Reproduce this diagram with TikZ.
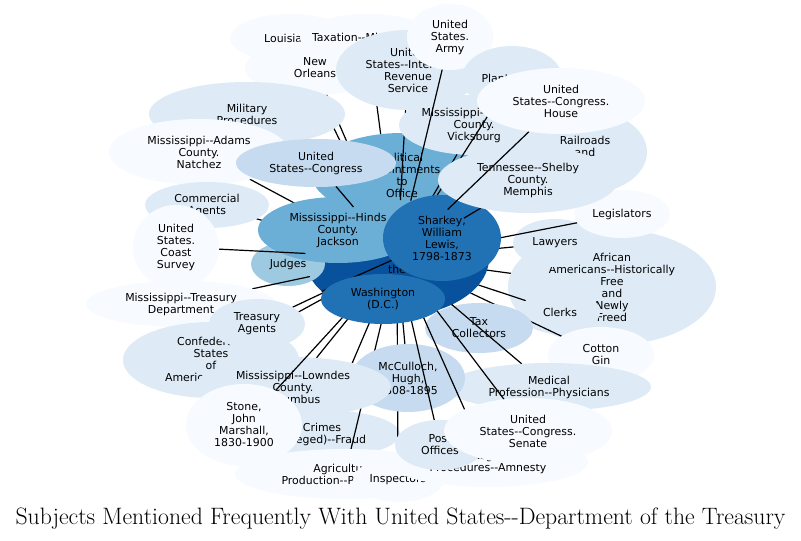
\documentclass[tikz,border=0pt]{standalone}
\usepackage{fontspec}
\newfontfamily\lblfont{DejaVu Sans}[Ligatures=TeXOff]
\usetikzlibrary{shapes.geometric}

\definecolor{c0}{HTML}{F7FBFF}
\definecolor{c1}{HTML}{DEEBF7}
\definecolor{c2}{HTML}{C6DBEF}
\definecolor{c3}{HTML}{9ECAE1}
\definecolor{c4}{HTML}{6BAED6}
\definecolor{c6}{HTML}{2171B5}
\definecolor{c7}{HTML}{08519C}

\tikzset{
  hull/.style={ellipse, inner sep=0pt, outer sep=0pt},
  lbl/.style={align=center, inner sep=0pt, font=\lblfont\fontsize{8.2}{9}\selectfont},
  link/.style={line width=0.9pt},
}

% name, x, y, x radius, y radius, colour, label
\newcommand{\subj}[7]{%
  \node[hull, minimum width=#4*1.5pt, minimum height=#5*1.5pt] (#1) at (#2,#3) {};
  \draw[link] (tr) -- (#1);
  \fill[#6] (#1.center) ellipse[x radius=#4, y radius=#5];
  \node[lbl] (#1-l) at (#1) {#7};
}

\begin{document}
\begin{tikzpicture}[x=0.75pt, y=-0.75pt]
  \path[fill=white, use as bounding box] (0,0) rectangle (801,541);

  \node[hull, minimum width=92*1.5pt, minimum height=58*1.5pt] (tr) at (397,258) {};
  \fill[c7] (tr.center) ellipse[x radius=92, y radius=58];
  \node[lbl] (tr-l) at (tr) {United\\States--Department\\of\\the\\Treasury};

  \subj{louisiana}{290}{38}{60}{24}{c0}{Louisiana}
  \subj{taxation}{368}{38}{68}{24}{c0}{Taxation--Mississippi}
  \subj{orleans}{315}{68}{70}{27}{c0}{New\\Orleans}
  \subj{military}{247}{114}{98}{32}{c1}{Military\\Procedures}
  \subj{adams}{199}{152}{90}{33}{c0}{Mississippi--Adams\\County.\\Natchez}
  \subj{political}{402}{175}{90}{42}{c4}{Political\\Appointments\\to\\Office}
  \subj{commercial}{207}{205}{62}{23}{c1}{Commercial\\Agents}
  \subj{judges}{288}{264}{37}{22}{c3}{Judges}
  \subj{hinds}{338}{230}{80}{33}{c4}{Mississippi--Hinds\\County.\\Jackson}
  \subj{congress}{316}{163}{80}{24}{c2}{United\\States--Congress}
  \subj{coast}{176}{247}{43}{42}{c0}{United\\States.\\Coast\\Survey}
  \subj{treasdept}{181}{304}{95}{23}{c0}{Mississippi--Treasury\\Department}
  \subj{confed}{211}{360}{88}{38}{c1}{Confederate\\States\\of\\America--History}
  \subj{agents}{257}{324}{48}{25}{c1}{Treasury\\Agents}
  \subj{revenue}{408}{70}{72}{40}{c1}{United\\States--Internal\\Revenue\\Service}
  \subj{vicksburg}{474}{125}{75}{30}{c1}{Mississippi--Warren\\County.\\Vicksburg}
  \subj{army}{450}{37}{43}{33}{c0}{United\\States.\\Army}
  \subj{plantations}{512}{78}{50}{32}{c1}{Plantations}
  \subj{railroads}{585}{152}{62}{42}{c1}{Railroads\\and\\Politics}
  \subj{african}{612}{287}{104}{58}{c1}{African\\Americans--Historically\\Free\\and\\Newly\\Freed}
  \subj{lawyers}{555}{243}{42}{24}{c1}{Lawyers}
  \subj{legislators}{622}{214}{48}{24}{c0}{Legislators}
  \subj{clerks}{560}{312}{40}{22}{c1}{Clerks}
  \subj{cotton}{601}{355}{53}{28}{c0}{Cotton\\Gin}
  \subj{taxcoll}{479}{328}{54}{25}{c2}{Tax\\Collectors}
  \subj{medical}{549}{387}{102}{24}{c1}{Medical\\Profession--Physicians}
  \subj{crimes}{322}{434}{78}{24}{c1}{Crimes\\(Alleged)--Fraud}
  \subj{agri}{345}{474}{110}{25}{c0}{Agricultural\\Production--Plantations}
  \subj{inspectors}{398}{480}{45}{22}{c0}{Inspectors}
  \subj{mcculloch}{408}{378}{57}{34}{c2}{McCulloch,\\Hugh,\\1808-1895}
  \subj{lowndes}{293}{387}{98}{30}{c1}{Mississippi--Lowndes\\County.\\Columbus}
  \subj{stone}{244}{425}{58}{41}{c0}{Stone,\\John\\Marshall,\\1830-1900}
  \subj{amnesty}{488}{462}{100}{25}{c0}{Legal\\Procedures--Amnesty}
  \subj{post}{440}{445}{45}{25}{c1}{Post\\Offices}
  \subj{senate}{528}{431}{84}{33}{c0}{United\\States--Congress.\\Senate}
  \subj{sharkey}{442}{238}{59}{43}{c6}{Sharkey,\\William\\Lewis,\\1798-1873}
  \subj{tennessee}{528}{180}{90}{33}{c1}{Tennessee--Shelby\\County.\\Memphis}
  \subj{house}{561}{101}{84}{33}{c0}{United\\States--Congress.\\House}
  \subj{washington}{383}{299}{62}{25}{c6}{Washington\\(D.C.)}

  \node[font=\fontsize{17.8}{20}\selectfont] (title) at (400.5,519)
    {Subjects Mentioned Frequently With United States-{}-Department of the Treasury};
\end{tikzpicture}
\end{document}
